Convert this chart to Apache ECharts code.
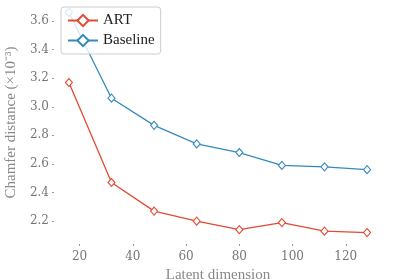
<!DOCTYPE html>
<html>
<head>
<meta charset="utf-8">
<script src="https://cdn.jsdelivr.net/npm/echarts@6/dist/echarts.min.js"></script>
<style>
  html, body { margin: 0; padding: 0; background: #fff; }
  #main { width: 420px; height: 280px; }
</style>
</head>
<body>
<div id="main"></div>
<script>
// 数据
var dims = [16, 32, 48, 64, 80, 96, 112, 128];
var art = [3.17, 2.47, 2.27, 2.20, 2.14, 2.19, 2.13, 2.12];
var baseline = [3.66, 3.06, 2.87, 2.74, 2.68, 2.59, 2.58, 2.56];
var xTicks = [20, 40, 60, 80, 100, 120];
var yTicks = [2.2, 2.4, 2.6, 2.8, 3.0, 3.2, 3.4, 3.6];

function pairs(ys) {
  return dims.map(function (d, i) { return [d, ys[i]]; });
}

function lineSeries(name, ys, color) {
  return {
    name: name,
    type: 'line',
    data: pairs(ys),
    symbol: 'diamond',
    symbolSize: [7, 8],
    lineStyle: { width: 1.3, color: color },
    itemStyle: { color: '#fff', borderColor: color, borderWidth: 1.1 }
  };
}

var myChart = echarts.init(document.getElementById('main'));
var serif = 'Liberation Serif';
var option = {
  animation: false,
  backgroundColor: '#fff',
  grid: { left: 54, right: 38, top: 1, bottom: 36, containLabel: false, outerBoundsMode: 'none' },
  legend: {
    orient: 'vertical',
    left: 61,
    top: 7,
    padding: [6, 6, 6, 6],
    itemGap: 5,
    itemWidth: 30,
    itemHeight: 14,
    backgroundColor: 'rgba(255,255,255,0.8)',
    borderColor: '#cccccc',
    borderWidth: 1,
    borderRadius: 3,
    textStyle: { fontFamily: serif, fontSize: 15, color: '#222' },
    data: ['ART', 'Baseline']
  },
  xAxis: {
    type: 'value',
    min: 10.4,
    max: 133.6,
    name: 'Latent dimension',
    nameLocation: 'middle',
    nameGap: 20,
    nameTextStyle: { fontFamily: serif, fontSize: 15, color: '#888' },
    axisLine: { show: false },
    splitLine: { show: false },
    axisTick: { show: true, length: 2, lineStyle: { color: '#999' }, customValues: xTicks },
    axisLabel: { margin: 7, fontFamily: 'DejaVu Serif', fontSize: 12, color: '#777', customValues: xTicks }
  },
  yAxis: {
    type: 'value',
    min: 2.04,
    max: 3.74,
    name: 'Chamfer distance (×10⁻³)',
    nameLocation: 'middle',
    nameGap: 30,
    nameTextStyle: { fontFamily: serif, fontSize: 15, color: '#888' },
    axisLine: { show: false },
    splitLine: { show: false },
    axisTick: { show: true, length: 2, lineStyle: { color: '#999' }, customValues: yTicks },
    axisLabel: {
      margin: 5, fontFamily: 'DejaVu Serif', fontSize: 12, color: '#777',
      customValues: yTicks,
      formatter: function (v) { return v.toFixed(1); }
    }
  },
  series: [
    lineSeries('ART', art, '#E24A33'),
    lineSeries('Baseline', baseline, '#348ABD')
  ]
};
myChart.setOption(option);
</script>
</body>
</html>
